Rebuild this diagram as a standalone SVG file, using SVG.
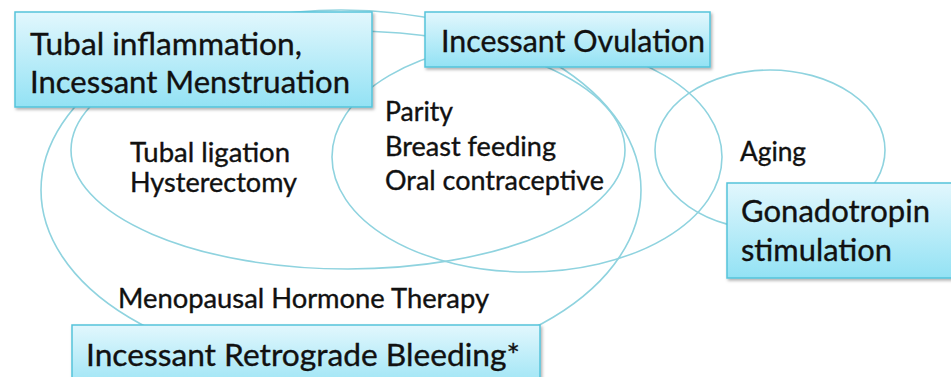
<svg xmlns="http://www.w3.org/2000/svg" width="951" height="377" viewBox="0 0 951 377">
<defs>
<linearGradient id="boxfill" x1="0" y1="0" x2="0" y2="1">
<stop offset="0" stop-color="#e2f7fd"/>
<stop offset="1" stop-color="#93e2f4"/>
</linearGradient>
<filter id="shadow" x="-5%" y="-10%" width="115%" height="130%">
<feDropShadow dx="1.5" dy="2" stdDeviation="1.5" flood-color="#000" flood-opacity="0.3"/>
</filter>
<style>
.ring{fill:none;stroke:#8fd3df;stroke-width:1.6}
.box{fill:url(#boxfill);stroke:#55c3da;stroke-width:1.5;filter:url(#shadow)}
.big{font-family:Lato,"Open Sans","Liberation Sans",sans-serif;font-size:31px;fill:#111;stroke:#111;stroke-width:0.35}
.small{font-family:Lato,"Open Sans","Liberation Sans",sans-serif;font-size:26px;fill:#111;stroke:#111;stroke-width:0.35}
</style>
</defs>
<rect width="951" height="377" fill="#fff"/>
<g id="connectors">
<ellipse class="ring" cx="341" cy="190" rx="300" ry="180"/>
<ellipse class="ring" cx="348" cy="150" rx="277" ry="119"/>
<ellipse class="ring" cx="527" cy="157" rx="195" ry="115"/>
<ellipse class="ring" cx="770" cy="150" rx="115" ry="80"/>
</g>
<g id="tubal">
<rect class="box" x="15" y="12" width="357" height="95"/>
<text class="big" x="30" y="55" textLength="272" lengthAdjust="spacingAndGlyphs">Tubal inflammation,</text>
<text class="big" x="30" y="93" textLength="320" lengthAdjust="spacingAndGlyphs">Incessant Menstruation</text>
</g>
<g id="ovulation">
<rect class="box" x="425" y="12" width="285" height="55"/>
<text class="big" x="441" y="52" textLength="264" lengthAdjust="spacingAndGlyphs">Incessant Ovulation</text>
</g>
<g id="gonadotropin">
<rect class="box" x="727" y="183" width="240" height="95"/>
<text class="big" x="741" y="222" textLength="189" lengthAdjust="spacingAndGlyphs">Gonadotropin</text>
<text class="big" x="741" y="261" textLength="151" lengthAdjust="spacingAndGlyphs">stimulation</text>
</g>
<g id="retrograde">
<rect class="box" x="72" y="325" width="468" height="70"/>
<text class="big" x="86" y="366" textLength="434" lengthAdjust="spacingAndGlyphs">Incessant Retrograde Bleeding*</text>
</g>
<g id="labels">
<text class="small" x="130" y="162" textLength="160" lengthAdjust="spacingAndGlyphs">Tubal ligation</text>
<text class="small" x="130" y="192" textLength="167" lengthAdjust="spacingAndGlyphs">Hysterectomy</text>
<text class="small" x="385" y="121" textLength="68" lengthAdjust="spacingAndGlyphs">Parity</text>
<text class="small" x="385" y="156" textLength="171" lengthAdjust="spacingAndGlyphs">Breast feeding</text>
<text class="small" x="385" y="190" textLength="219" lengthAdjust="spacingAndGlyphs">Oral contraceptive</text>
<text class="small" x="740" y="161" textLength="66" lengthAdjust="spacingAndGlyphs">Aging</text>
<text class="small" x="118" y="308" textLength="371" lengthAdjust="spacingAndGlyphs">Menopausal Hormone Therapy</text>
</g>
</svg>
